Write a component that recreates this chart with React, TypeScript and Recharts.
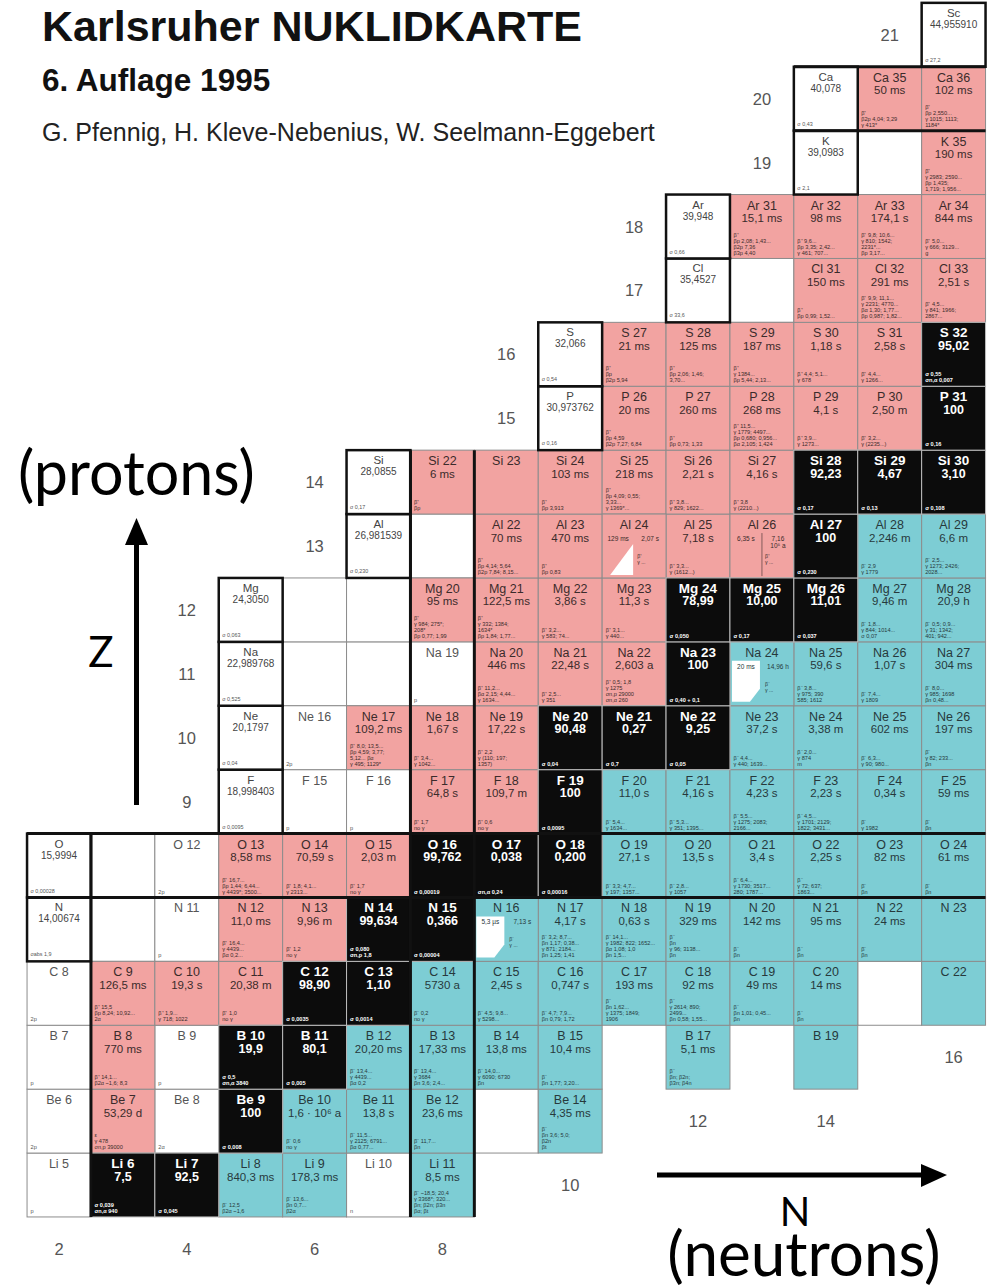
import { ScatterChart, Scatter, XAxis, YAxis, ReferenceLine } from 'recharts';

const W = 990;
const H = 1286;
const CELL = 63.9; // one nuclide square, px
const N2_X = 59; // centre of the N = 2 column
const Z3_Y = 1185; // centre of the Z = 3 row

const xDomain = [2 - N2_X / CELL, 2 + (W - N2_X) / CELL];
const yDomain = [3 - (H - Z3_Y) / CELL, 3 + Z3_Y / CELL];

const symbols = ['', 'H', 'He', 'Li', 'Be', 'B', 'C', 'N', 'O', 'F', 'Ne', 'Na', 'Mg', 'Al', 'Si', 'P', 'S', 'Cl', 'Ar', 'K', 'Ca', 'Sc'];

// [Z, N, abundance %, notes]
const stable: [number, number, string, string[]][] = [
  [3, 3, '7,5', ['σ 0,039', 'σn,α 940']],
  [3, 4, '92,5', ['σ 0,045']],
  [4, 5, '100', ['σ 0,008']],
  [5, 5, '19,9', ['σ 0,5', 'σn,α 3840']],
  [5, 6, '80,1', ['σ 0,005']],
  [6, 6, '98,90', ['σ 0,0035']],
  [6, 7, '1,10', ['σ 0,0014']],
  [7, 7, '99,634', ['σ 0,080', 'σn,p 1,8']],
  [7, 8, '0,366', ['σ 0,00004']],
  [8, 8, '99,762', ['σ 0,00019']],
  [8, 9, '0,038', ['σn,α 0,24']],
  [8, 10, '0,200', ['σ 0,00016']],
  [9, 10, '100', ['σ 0,0095']],
  [10, 10, '90,48', ['σ 0,04']],
  [10, 11, '0,27', ['σ 0,7']],
  [10, 12, '9,25', ['σ 0,05']],
  [11, 12, '100', ['σ 0,40 + 0,1']],
  [12, 12, '78,99', ['σ 0,050']],
  [12, 13, '10,00', ['σ 0,17']],
  [12, 14, '11,01', ['σ 0,037']],
  [13, 14, '100', ['σ 0,230']],
  [14, 14, '92,23', ['σ 0,17']],
  [14, 15, '4,67', ['σ 0,13']],
  [14, 16, '3,10', ['σ 0,108']],
  [15, 16, '100', ['σ 0,16']],
  [16, 16, '95,02', ['σ 0,55', 'σn,α 0,007']],
];

// [Z, N, half-life, decay notes]
const betaPlus: [number, number, string, string[]][] = [
  [4, 3, '53,29 d', ['ε', 'γ 478', 'σn,p 39000']],
  [5, 3, '770 ms', ['β⁺ 14,1...', 'β2α ~1,6; 8,3']],
  [6, 3, '126,5 ms', ['β⁺ 15,5', 'βp 8,24; 10,92...', '2α']],
  [6, 4, '19,3 s', ['β⁺ 1,9...', 'γ 718; 1022']],
  [6, 5, '20,38 m', ['β⁺ 1,0', 'no γ']],
  [7, 5, '11,0 ms', ['β⁺ 16,4...', 'γ 4439...', 'βα 0,2...']],
  [7, 6, '9,96 m', ['β⁺ 1,2', 'no γ']],
  [8, 5, '8,58 ms', ['β⁺ 16,7...', 'βp 1,44; 6,44...', 'γ 4439*; 3500...']],
  [8, 6, '70,59 s', ['β⁺ 1,8; 4,1...', 'γ 2313...']],
  [8, 7, '2,03 m', ['β⁺ 1,7', 'no γ']],
  [9, 8, '64,8 s', ['β⁺ 1,7', 'no γ']],
  [9, 9, '109,7 m', ['β⁺ 0,6', 'no γ']],
  [10, 7, '109,2 ms', ['β⁺ 8,0; 13,5...', 'βp 4,59; 3,77;', '5,12...  βα', 'γ 495; 1129*']],
  [10, 8, '1,67 s', ['β⁺ 3,4...', 'γ 1042...']],
  [10, 9, '17,22 s', ['β⁺ 2,2', 'γ (110; 197;', '1357)']],
  [11, 9, '446 ms', ['β⁺ 11,2...', 'βα 2,15; 4,44...', 'γ 1634...']],
  [11, 10, '22,48 s', ['β⁺ 2,5...', 'γ 351']],
  [11, 11, '2,603 a', ['β⁺ 0,5; 1,8', 'γ 1275', 'σn,p 29000', 'σn,α 260']],
  [12, 8, '95 ms', ['β⁺', 'γ 984; 275*;', '208*', 'βp 0,77; 1,99']],
  [12, 9, '122,5 ms', ['β⁺', 'γ 332; 1384;', '1634*', 'βp 1,84; 1,77...']],
  [12, 10, '3,86 s', ['β⁺ 3,2...', 'γ 583; 74...']],
  [12, 11, '11,3 s', ['β⁺ 3,1...', 'γ 440...']],
  [13, 9, '70 ms', ['β⁺', 'βp 4,14; 5,64', 'β2p 7,84; 8,15...']],
  [13, 10, '470 ms', ['β⁺', 'βp 0,83']],
  [13, 12, '7,18 s', ['β⁺ 3,3...', 'γ (1612...)']],
  [14, 8, '6 ms', ['β⁺', 'βp']],
  [14, 9, '', []],
  [14, 10, '103 ms', ['β⁺', 'βp 3,913']],
  [14, 11, '218 ms', ['β⁺', 'βp 4,09; 0,55;', '3,33...', 'γ 1369*...']],
  [14, 12, '2,21 s', ['β⁺ 3,8...', 'γ 829; 1622...']],
  [14, 13, '4,16 s', ['β⁺ 3,8', 'γ (2210...)']],
  [15, 11, '20 ms', ['β⁺', 'βp 4,59', 'β2p 7,27; 6,84']],
  [15, 12, '260 ms', ['β⁺', 'βp 0,73; 1,33']],
  [15, 13, '268 ms', ['β⁺ 11,5...', 'γ 1779; 4497...', 'βp 0,680; 0,956...', 'βα 2,105; 1,424']],
  [15, 14, '4,1 s', ['β⁺ 3,9...', 'γ 1273...']],
  [15, 15, '2,50 m', ['β⁺ 3,2...', 'γ (2235...)']],
  [16, 11, '21 ms', ['β⁺', 'βp', 'β2p 5,94']],
  [16, 12, '125 ms', ['β⁺', 'βp 2,06; 1,46;', '3,70...']],
  [16, 13, '187 ms', ['β⁺', 'γ 1384...', 'βp 5,44; 2,13...']],
  [16, 14, '1,18 s', ['β⁺ 4,4; 5,1...', 'γ 678']],
  [16, 15, '2,58 s', ['β⁺ 4,4...', 'γ 1266...']],
  [17, 14, '150 ms', ['β⁺', 'βp 0,99; 1,52...']],
  [17, 15, '291 ms', ['β⁺ 9,9; 11,1...', 'γ 2231; 4770...', 'βα 1,30; 1,77...', 'βp 0,987; 1,82...']],
  [17, 16, '2,51 s', ['β⁺ 4,5...', 'γ 841; 1966;', '2867...']],
  [18, 13, '15,1 ms', ['β⁺', 'βp 2,08; 1,43...', 'β2p 7,36', 'β3p 4,40']],
  [18, 14, '98 ms', ['β⁺ 9,6...', 'βp 3,35; 2,42...', 'γ 461; 707...']],
  [18, 15, '174,1 s', ['β⁺ 9,8; 10,6...', 'γ 810; 1542;', '2231*...', 'βp 3,17...']],
  [18, 16, '844 ms', ['β⁺ 5,0...', 'γ 666; 3129...', 'g']],
  [19, 16, '190 ms', ['β⁺', 'γ 2983; 2590...', 'βp 1,435;', '1,719; 1,956...']],
  [20, 15, '50 ms', ['β⁺', 'β2p 4,04; 3,29', 'γ 413*']],
  [20, 16, '102 ms', ['β⁺', 'βp 2,550...', 'γ 1015; 1113;', '1184*']],
];

const betaMinus: [number, number, string, string[]][] = [
  [3, 5, '840,3 ms', ['β⁻ 12,5', 'β2α ~1,6']],
  [3, 6, '178,3 ms', ['β⁻ 13,6...', 'βn 0,7...', 'β2α']],
  [3, 8, '8,5 ms', ['β⁻ ~18,5; 20,4', 'γ 3368*; 320...', 'βn; β2n; β3n', 'βα; βt']],
  [4, 6, '1,6 · 10⁶ a', ['β⁻ 0,6', 'no γ']],
  [4, 7, '13,8 s', ['β⁻ 11,5...', 'γ 2125; 6791...', 'βα 0,77...']],
  [4, 8, '23,6 ms', ['β⁻ 11,7...', 'βn']],
  [4, 10, '4,35 ms', ['β⁻', 'βn 3,6; 5,0;', 'β2n', 'βt']],
  [5, 7, '20,20 ms', ['β⁻ 13,4...', 'γ 4439...', 'βα 0,2']],
  [5, 8, '17,33 ms', ['β⁻ 13,4...', 'γ 3684', 'βn 3,6; 2,4...']],
  [5, 9, '13,8 ms', ['β⁻ 14,0...', 'γ 6090; 6730', 'βn']],
  [5, 10, '10,4 ms', ['β⁻', 'βn 1,77; 3,20...']],
  [5, 12, '5,1 ms', ['β⁻', 'βn; β2n;', 'β3n; β4n']],
  [5, 14, '', []],
  [6, 8, '5730 a', ['β⁻ 0,2', 'no γ']],
  [6, 9, '2,45 s', ['β⁻ 4,5; 9,8...', 'γ 5298...']],
  [6, 10, '0,747 s', ['β⁻ 4,7; 7,9...', 'βn 0,79; 1,72']],
  [6, 11, '193 ms', ['β⁻', 'βn 1,62...', 'γ 1375; 1849;', '1906']],
  [6, 12, '92 ms', ['β⁻', 'γ 2614; 890;', '2499...', 'βn 0,58; 1,55...']],
  [6, 13, '49 ms', ['β⁻', 'βn 1,01; 0,45...', 'βn']],
  [6, 14, '14 ms', ['β⁻', 'βn']],
  [6, 16, '', []],
  [7, 10, '4,17 s', ['β⁻ 3,2; 8,7...', 'βn 1,17; 0,38...', 'γ 871; 2184...', 'βn 1,25; 1,41']],
  [7, 11, '0,63 s', ['β⁻ 14,1...', 'γ 1982; 822; 1652...', 'βα 1,08; 1,0', 'βn 1,5...']],
  [7, 12, '329 ms', ['β⁻', 'βn', 'γ 96; 3138...', 'βn']],
  [7, 13, '142 ms', ['β⁻', 'βn']],
  [7, 14, '95 ms', ['β⁻', 'βn']],
  [7, 15, '24 ms', ['β⁻', 'βn']],
  [7, 16, '', []],
  [8, 11, '27,1 s', ['β⁻ 3,3; 4,7...', 'γ 197; 1357...']],
  [8, 12, '13,5 s', ['β⁻ 2,8...', 'γ 1057']],
  [8, 13, '3,4 s', ['β⁻ 6,4...', 'γ 1730; 3517...', '280; 1787...']],
  [8, 14, '2,25 s', ['β⁻', 'γ 72; 637;', '1863...']],
  [8, 15, '82 ms', ['β⁻', 'βn']],
  [8, 16, '61 ms', ['β⁻', 'βn']],
  [9, 11, '11,0 s', ['β⁻ 5,4...', 'γ 1634...']],
  [9, 12, '4,16 s', ['β⁻ 5,3...', 'γ 351; 1395...']],
  [9, 13, '4,23 s', ['β⁻ 5,5...', 'γ 1275; 2083;', '2166...']],
  [9, 14, '2,23 s', ['β⁻ 4,5...', 'γ 1701; 2129;', '1822; 3431...']],
  [9, 15, '0,34 s', ['β⁻', 'γ 1982']],
  [9, 16, '59 ms', ['β⁻', 'βn']],
  [10, 13, '37,2 s', ['β⁻ 4,4...', 'γ 440; 1639...']],
  [10, 14, '3,38 m', ['β⁻ 2,0...', 'γ 874', 'm']],
  [10, 15, '602 ms', ['β⁻ 6,3...', 'γ 90; 980...']],
  [10, 16, '197 ms', ['β⁻', 'γ 82; 233...', 'βn']],
  [11, 14, '59,6 s', ['β⁻ 3,8...', 'γ 975; 390', '585; 1612']],
  [11, 15, '1,07 s', ['β⁻ 7,4...', 'γ 1809']],
  [11, 16, '304 ms', ['β⁻ 8,0...', 'γ 985; 1698', 'βn 0,48...']],
  [12, 15, '9,46 m', ['β⁻ 1,8...', 'γ 844; 1014...', 'σ 0,07']],
  [12, 16, '20,9 h', ['β⁻ 0,5; 0,9...', 'γ 31; 1342;', '401; 942...']],
  [13, 15, '2,246 m', ['β⁻ 2,9', 'γ 1779']],
  [13, 16, '6,6 m', ['β⁻ 2,5...', 'γ 1273; 2426;', '2028...']],
];

// nuclei with two states: [Z, N, left state, right state, marking, family]
const isomers: [number, number, string, string, string, string][] = [
  [7, 9, '5,3 µs', '7,13 s', 'it', 'minus'],
  [11, 13, '20 ms', '14,96 h', 'it', 'minus'],
  [13, 11, '129 ms', '2,07 s', 'corner', 'plus'],
  [13, 13, '6,35 s', '7,16\n10⁵ a', 'split', 'plus'],
];

// particle-unstable nuclei: [Z, N, decay]
const unbound: [number, number, string][] = [
  [3, 2, 'p'], [3, 7, 'n'], [4, 2, '2p'], [4, 4, '2α'], [5, 2, 'p'], [5, 4, 'p'],
  [6, 2, '2p'], [7, 4, 'p'], [8, 4, '2p'], [9, 6, 'p'], [9, 7, 'p'], [10, 6, '2p'], [11, 8, 'p'],
];

// element boxes: [Z, column N, atomic weight, σ]
const elements: [number, number, string, string][] = [
  [7, 2, '14,00674', 'σabs 1,9'],
  [8, 2, '15,9994', 'σ 0,00028'],
  [9, 5, '18,998403', 'σ 0,0095'],
  [10, 5, '20,1797', 'σ 0,04'],
  [11, 5, '22,989768', 'σ 0,525'],
  [12, 5, '24,3050', 'σ 0,063'],
  [13, 7, '26,981539', 'σ 0,230'],
  [14, 7, '28,0855', 'σ 0,17'],
  [15, 10, '30,973762', 'σ 0,16'],
  [16, 10, '32,066', 'σ 0,54'],
  [17, 12, '35,4527', 'σ 33,6'],
  [18, 12, '39,948', 'σ 0,66'],
  [19, 14, '39,0983', 'σ 2,1'],
  [20, 14, '40,078', 'σ 0,43'],
  [21, 16, '44,955910', 'σ 27,2'],
];

const emptyCells: [number, number][] = [
  [7, 3], [8, 3], [11, 6], [11, 7], [12, 6], [12, 7], [13, 8], [17, 13], [19, 15], [4, 9], [6, 15],
];

// proton numbers along the staircase edge
const rowLabelZ = [9, 10, 11, 12, 13, 14, 15, 16, 17, 18, 19, 20, 21];
const rowLabelN = [4, 4, 4, 4, 6, 6, 9, 9, 11, 11, 13, 13, 15];
// neutron numbers below the chart
const colLabelN = [2, 4, 6, 8, 10, 12, 14, 16];
const colLabelZ = [2, 2, 2, 2, 3, 4, 4, 5];

// closed shells: 2, 8, 20
const magicVertical: [number, number, number][] = [
  [2.5, 2.5, 8.5],
  [7.5, 2.5, 14.5],
  [8.5, 2.5, 14.5],
];
const magicHorizontal: [number, number, number][] = [
  [7.5, 1.5, 16.5],
  [8.5, 1.5, 16.5],
  [19.5, 13.5, 16.5],
  [20.5, 13.5, 16.5],
];

const PINK = '#f2a3a1';
const CYAN = '#7dcdd4';
const BLACK = '#0c0c0c';
const FONT = '"Liberation Sans", Arial, sans-serif';
const HAND = 'Lato, "Open Sans", sans-serif';

const nuclidePoints = (rows: [number, number, string, string[]][]) =>
  rows.map(([z, n, value, notes]) => ({ z, n, name: `${symbols[z]} ${z + n}`, value, notes }));

const stablePoints = nuclidePoints(stable);
const plusPoints = nuclidePoints(betaPlus);
const minusPoints = nuclidePoints(betaMinus);
const isomerPoints = isomers.map(([z, n, left, right, mark, family]) => ({
  z, n, name: `${symbols[z]} ${z + n}`, left, right, mark, family,
}));
const unboundPoints = unbound.map(([z, n, decay]) => ({ z, n, name: `${symbols[z]} ${z + n}`, decay }));
const elementPoints = elements.map(([z, n, weight, sigma]) => ({ z, n, symbol: symbols[z], weight, sigma }));
const emptyPoints = emptyCells.map(([z, n]) => ({ z, n }));
const rowLabels = rowLabelZ.map((z, i) => ({ z, n: rowLabelN[i], text: String(z) }));
const colLabels = colLabelN.map((n, i) => ({ z: colLabelZ[i], n, text: String(n) }));

const Notes = ({ x, y, lines, color, bold }: any) => (
  <>
    {lines.map((t: string, i: number) => (
      <text key={i} x={x + 3.5} y={y + 60 - (lines.length - 1 - i) * 6} fontSize={5.6}
        fontFamily={FONT} fontWeight={bold ? 700 : 400} fill={color}>{t}</text>
    ))}
  </>
);

const nuclideShape = (fill: string, ink: string, isStable: boolean) => (props: any) => {
  const { cx, cy, payload } = props;
  const x = cx - CELL / 2;
  const y = cy - CELL / 2;
  return (
    <g>
      <rect x={x} y={y} width={CELL} height={CELL} fill={fill}
        stroke={isStable ? '#bdbdbd' : '#8c8c8c'} strokeWidth={1} />
      <text x={cx} y={y + 15} textAnchor="middle" fontSize={isStable ? 13.5 : 12.5}
        fontWeight={isStable ? 700 : 400} fontFamily={FONT} fill={ink}>{payload.name}</text>
      {payload.value && (
        <text x={cx} y={y + 27.5} textAnchor="middle" fontSize={isStable ? 12.5 : 11.5}
          fontWeight={isStable ? 700 : 400} fontFamily={FONT} fill={ink}>{payload.value}</text>
      )}
      <Notes x={x} y={y} lines={payload.notes} color={ink} bold={isStable} />
    </g>
  );
};

const isomerShape = (props: any) => {
  const { cx, cy, payload } = props;
  const x = cx - CELL / 2;
  const y = cy - CELL / 2;
  const fill = payload.family === 'minus' ? CYAN : PINK;
  const ink = payload.family === 'minus' ? '#27393c' : '#3b2b2b';
  const rightLines = payload.right.split('\n');
  return (
    <g>
      <rect x={x} y={y} width={CELL} height={CELL} fill={fill} stroke="#8c8c8c" strokeWidth={1} />
      {payload.mark === 'it' && (
        <polygon fill="#ffffff" points={`${x + 2},${y + 19} ${x + 30},${y + 19} ${x + 30},${y + 47} ${x + 20},${y + 60} ${x + 2},${y + 60}`} />
      )}
      {payload.mark === 'corner' && (
        <polygon fill="#ffffff" points={`${x + 31},${y + 30} ${x + 31},${y + 61} ${x + 8},${y + 61}`} />
      )}
      {payload.mark === 'split' && (
        <line x1={x + 32} x2={x + 32} y1={y + 19} y2={y + 62} stroke={ink} strokeWidth={0.6} />
      )}
      <text x={cx} y={y + 15} textAnchor="middle" fontSize={12.5} fontFamily={FONT} fill={ink}>{payload.name}</text>
      <text x={x + 16} y={y + 27} textAnchor="middle" fontSize={6.5} fontFamily={FONT} fill={ink}>{payload.left}</text>
      {rightLines.map((t: string, i: number) => (
        <text key={i} x={x + 48} y={y + 27 + i * 7} textAnchor="middle" fontSize={6.5} fontFamily={FONT} fill={ink}>{t}</text>
      ))}
      <text x={x + 35} y={y + 44} fontSize={5.2} fontFamily={FONT} fill={ink}>{payload.family === 'minus' ? 'β⁻' : 'β⁺'}</text>
      <text x={x + 35} y={y + 50} fontSize={5.2} fontFamily={FONT} fill={ink}>γ ...</text>
    </g>
  );
};

const unboundShape = (props: any) => {
  const { cx, cy, payload } = props;
  const x = cx - CELL / 2;
  const y = cy - CELL / 2;
  return (
    <g>
      <rect x={x} y={y} width={CELL} height={CELL} fill="#ffffff" stroke="#8c8c8c" strokeWidth={1} />
      <text x={cx} y={y + 15} textAnchor="middle" fontSize={12.5} fontFamily={FONT} fill="#555">{payload.name}</text>
      <text x={x + 3.5} y={y + 60} fontSize={5.6} fontFamily={FONT} fill="#555">{payload.decay}</text>
    </g>
  );
};

const elementShape = (props: any) => {
  const { cx, cy, payload } = props;
  const x = cx - CELL / 2;
  const y = cy - CELL / 2;
  return (
    <g>
      <rect x={x} y={y} width={CELL} height={CELL} fill="#ffffff" stroke="#111" strokeWidth={2.5} />
      <text x={cx} y={y + 14} textAnchor="middle" fontSize={11.5} fontFamily={FONT} fill="#444">{payload.symbol}</text>
      <text x={cx} y={y + 25} textAnchor="middle" fontSize={10} fontFamily={FONT} fill="#444">{payload.weight}</text>
      <text x={x + 3.5} y={y + 59} fontSize={5.4} fontFamily={FONT} fill="#555">{payload.sigma}</text>
    </g>
  );
};

const emptyShape = (props: any) => {
  const { cx, cy } = props;
  return <rect x={cx - CELL / 2} y={cy - CELL / 2} width={CELL} height={CELL} fill="#ffffff" stroke="#8c8c8c" strokeWidth={1} />;
};

const labelShape = (props: any) => (
  <text x={props.cx} y={props.cy + 6} textAnchor="middle" fontSize={16.5} fontFamily={FONT} fill="#555">
    {props.payload.text}
  </text>
);

export default function App() {
  return (
    <div style={{ position: 'absolute', left: 0, top: 0, width: W, height: H, background: '#ffffff' }}>
      <ScatterChart width={W} height={H} margin={{ top: 0, right: 0, bottom: 0, left: 0 }}>
        <XAxis type="number" dataKey="n" domain={xDomain} allowDataOverflow hide />
        <YAxis type="number" dataKey="z" domain={yDomain} allowDataOverflow hide />
        <Scatter data={emptyPoints} shape={emptyShape} isAnimationActive={false} />
        <Scatter data={unboundPoints} shape={unboundShape} isAnimationActive={false} />
        <Scatter data={plusPoints} fill={PINK} shape={nuclideShape(PINK, '#3b2b2b', false)} isAnimationActive={false} />
        <Scatter data={minusPoints} fill={CYAN} shape={nuclideShape(CYAN, '#27393c', false)} isAnimationActive={false} />
        <Scatter data={isomerPoints} shape={isomerShape} isAnimationActive={false} />
        <Scatter data={stablePoints} fill={BLACK} shape={nuclideShape(BLACK, '#ffffff', true)} isAnimationActive={false} />
        <Scatter data={elementPoints} shape={elementShape} isAnimationActive={false} />
        <Scatter data={rowLabels} shape={labelShape} isAnimationActive={false} />
        <Scatter data={colLabels} shape={labelShape} isAnimationActive={false} />
        {magicVertical.map(([n, z1, z2], i) => (
          <ReferenceLine key={`v${i}`} segment={[{ x: n, y: z1 }, { x: n, y: z2 }]}
            stroke="#111" strokeWidth={3} zIndex={700} />
        ))}
        {magicHorizontal.map(([z, n1, n2], i) => (
          <ReferenceLine key={`h${i}`} segment={[{ x: n1, y: z }, { x: n2, y: z }]}
            stroke="#111" strokeWidth={3} zIndex={700} />
        ))}
      </ScatterChart>

      <svg width={W} height={H} style={{ position: 'absolute', left: 0, top: 0, pointerEvents: 'none' }}>
        <text x={42} y={41} fontSize={43} fontWeight={700} fontFamily={FONT} fill="#111">Karlsruher NUKLIDKARTE</text>
        <text x={42} y={91} fontSize={31.5} fontWeight={700} fontFamily={FONT} fill="#111">6. Auflage 1995</text>
        <text x={42} y={141} fontSize={25} fontFamily={FONT} fill="#222">G. Pfennig, H. Kleve-Nebenius, W. Seelmann-Eggebert</text>

        <text x={18} y={495} fontSize={61} fontFamily={HAND} fill="#000">(protons)</text>
        <rect x={134} y={540} width={5} height={265} fill="#000" />
        <polygon points="125,545 136.5,518 148,545" fill="#000" />
        <text x={101} y={667} textAnchor="middle" fontSize={42} fontFamily={HAND} fill="#000">Z</text>

        <rect x={657} y={1172.5} width={268} height={5} fill="#000" />
        <polygon points="921,1164 947,1175 921,1187" fill="#000" />
        <text x={795} y={1226} textAnchor="middle" fontSize={40} fontFamily={HAND} fill="#000">N</text>
        <text x={804} y={1276} textAnchor="middle" fontSize={62} fontFamily={HAND} fill="#000">(neutrons)</text>
      </svg>
    </div>
  );
}
